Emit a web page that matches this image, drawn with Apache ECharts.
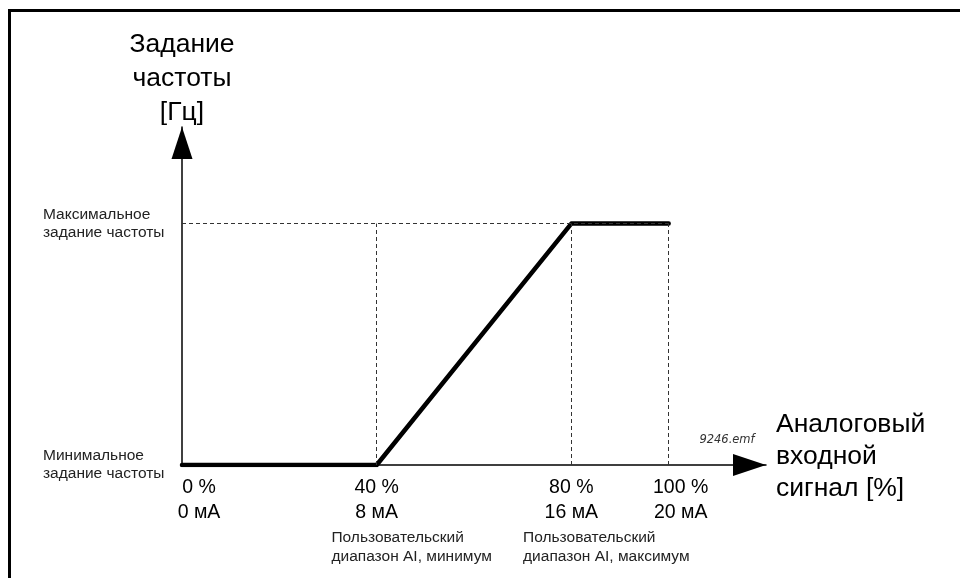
<!DOCTYPE html>
<html>
<head>
<meta charset="utf-8">
<script src="https://cdn.jsdelivr.net/npm/echarts@6/dist/echarts.min.js"></script>
<style>
html,body{margin:0;padding:0;background:#fff;}
#chart{width:960px;height:578px;}
</style>
</head>
<body>
<div id="chart"></div>
<script>
// ---- data ----
const signalPct = [0, 40, 80, 100];          // analog input, %
const freqRef = [0, 0, 100, 100];            // frequency reference, % of max
const tickValues = [0, 40, 80, 100];
const tickPct = ['0 %', '40 %', '80 %', '100 %'];
const tickMa = ['0 мА', '8 мА', '16 мА', '20 мА'];
const captionValues = [40, 80];
const captionTexts = ['Пользовательский\nдиапазон AI, минимум', 'Пользовательский\nдиапазон AI, максимум'];
const yTickValues = [0, 100];
const yTickTexts = ['Минимальное\nзадание частоты', 'Максимальное\nзадание частоты'];
const guideH = [[0, 100], [100, 100]];
const guideV = [40, 80, 100];
const xNameLines = ['Аналоговый', 'входной', 'сигнал [%]'];
const yName = 'Задание\nчастоты\n[Гц]';
const fileTag = '9246.emf';

const FONT = '"Liberation Sans", Arial, sans-serif';
const chart = echarts.init(document.getElementById('chart'), null, {renderer: 'canvas'});

const markData = [[{coord: guideH[0]}, {coord: guideH[1]}]];
guideV.forEach(v => markData.push([{coord: [v, 0]}, {coord: [v, 100]}]));

function captionAxis(i) {
  return {
    type: 'value', min: 0, max: 120, position: 'bottom', offset: 0,
    axisLine: {show: false}, axisTick: {show: false}, splitLine: {show: false},
    axisLabel: {
      show: true, margin: 63, customValues: [captionValues[i]], hideOverlap: false,
      formatter: function (v) {
        if (v !== captionValues[i]) return '';
        return captionTexts[i].split('\n').map(t => '{c|' + t + '}').join('\n');
      },
      rich: {
        c: {fontFamily: FONT, fontSize: 15.5, lineHeight: 19, color: '#222', align: 'left', padding: [0, 0, 0, 70]}
      }
    }
  };
}

chart.setOption({
  animation: false,
  backgroundColor: '#fff',
  grid: {left: 182, right: 194, top: 127, bottom: 113, containLabel: false},
  xAxis: [{
    type: 'value', min: 0, max: 120, position: 'bottom',
    name: xNameLines.map(t => '{n|' + t + '}').join('\n') + '\n{s|}',
    nameLocation: 'end', nameGap: 10,
    nameTextStyle: {
      align: 'left',
      rich: {
        n: {fontFamily: FONT, fontSize: 26.5, lineHeight: 32, color: '#000', align: 'left'},
        s: {fontSize: 10, lineHeight: 16}
      }
    },
    axisLine: {show: true, lineStyle: {color: '#000', width: 1.5}, symbol: ['none', 'triangle'], symbolSize: [22, 33], symbolOffset: [0, -16.5]},
    axisTick: {show: false},
    splitLine: {show: false},
    axisLabel: {
      show: true, margin: 10, customValues: tickValues, hideOverlap: false,
      formatter: function (v) {
        const i = tickValues.indexOf(v);
        if (i < 0) return '';
        const s = (v === 0) ? 'q' : (v === 100 ? 'r' : 'p');
        return '{' + s + '|' + tickPct[i] + '}\n{' + s + '|' + tickMa[i] + '}';
      },
      rich: {
        p: {fontFamily: FONT, fontSize: 19.5, lineHeight: 25, color: '#000'},
        q: {fontFamily: FONT, fontSize: 19.5, lineHeight: 25, color: '#000', padding: [0, 0, 0, 34]},
        r: {fontFamily: FONT, fontSize: 19.5, lineHeight: 25, color: '#000', padding: [0, 0, 0, 24]}
      }
    }
  }, captionAxis(0), captionAxis(1)],
  yAxis: {
    type: 'value', min: 0, max: 140,
    name: yName, nameLocation: 'end', nameGap: -3,
    nameTextStyle: {fontFamily: FONT, fontSize: 26.5, lineHeight: 34, color: '#000', align: 'center'},
    axisLine: {show: true, lineStyle: {color: '#000', width: 1.5}, symbol: ['none', 'triangle'], symbolSize: [21, 32], symbolOffset: [0, -16]},
    axisTick: {show: false},
    splitLine: {show: false},
    axisLabel: {
      show: true, margin: 139, align: 'left', customValues: yTickValues,
      formatter: function (v) {
        const i = yTickValues.indexOf(v);
        return i < 0 ? '' : yTickTexts[i];
      },
      fontFamily: FONT, fontSize: 15.5, lineHeight: 18, color: '#222'
    }
  },
  series: [{
    name: 'guides', type: 'line', data: [], z: 1, silent: true,
    markLine: {
      silent: true, symbol: ['none', 'none'], label: {show: false},
      lineStyle: {color: '#333', width: 1, type: [4, 3]},
      emphasis: {disabled: true},
      data: markData
    }
  }, {
    name: 'ref', type: 'line', z: 3, silent: true,
    data: signalPct.map((x, i) => [x, freqRef[i]]),
    symbol: 'none',
    lineStyle: {color: '#000', width: 4.5, cap: 'round', join: 'round'}
  }],
  graphic: [{
    type: 'polyline', silent: true,
    shape: {points: [[9.5, 578], [9.5, 10.5], [960, 10.5]]},
    style: {stroke: '#000', lineWidth: 3, fill: null}
  }, {
    type: 'text', silent: true, x: 727, y: 440,
    style: {text: fileTag, font: 'italic 11.5px "DejaVu Sans", Verdana, sans-serif', fill: '#333', align: 'center', verticalAlign: 'middle'}
  }]
});
</script>
</body>
</html>
